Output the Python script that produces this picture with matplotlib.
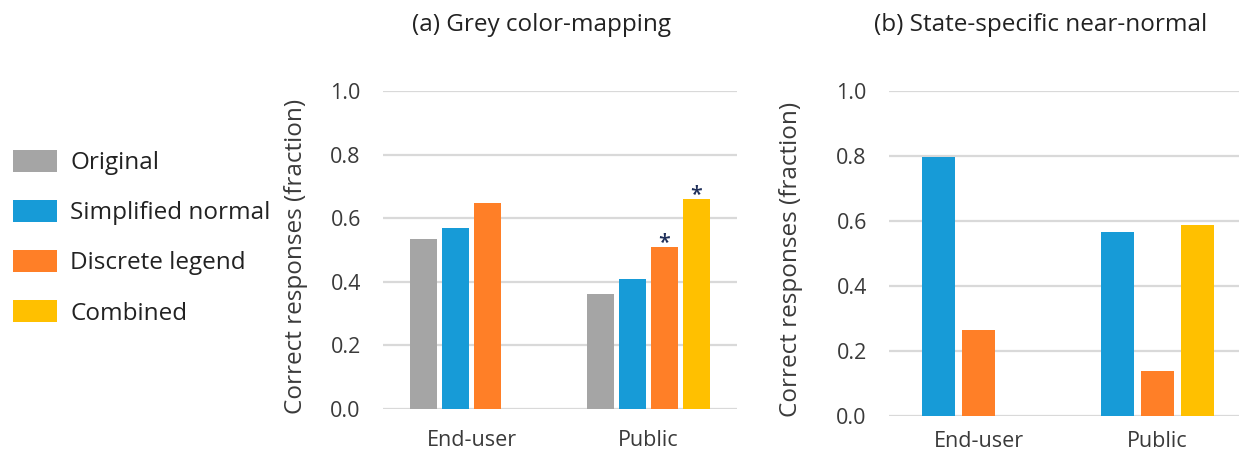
import matplotlib
matplotlib.use("Agg")
import matplotlib.pyplot as plt
from matplotlib.patches import Patch
import numpy as np

plt.rcParams['font.family'] = ['Open Sans', 'DejaVu Sans']

categories = ["End-user", "Public"]
series_names = ["Original", "Simplified normal", "Discrete legend", "Combined"]
colors = ["#A5A5A5", "#179BD7", "#FF7F27", "#FFC000"]

# (a) Grey color-mapping: NaN marks a condition that was not tested
grey_original = [0.535, 0.362]
grey_simplified = [0.569, 0.409]
grey_discrete = [0.649, 0.508]
grey_combined = [np.nan, 0.659]
grey_significant = [None, None, (1,), (1,)]

# (b) State-specific near-normal
near_simplified = [0.798, 0.566]
near_discrete = [0.264, 0.139]
near_combined = [np.nan, 0.587]

yticks = [0.0, 0.2, 0.4, 0.6, 0.8, 1.0]
ylabel = "Correct responses (fraction)"
titles = ["(a) Grey color-mapping", "(b) State-specific near-normal"]

W, H = 1239, 455
fig = plt.figure(figsize=(W / 100, H / 100), dpi=100)
FS_TICK = 15.5
FS = 17.5
TXT = "#3A3A3A"
DARK = "#222222"
GRID = "#D9D9D9"


def style_axes(ax, xpad):
    ax.set_ylim(0, 1.0)
    ax.set_yticks(yticks)
    ax.set_yticklabels([f"{t:.1f}" for t in yticks], fontsize=FS_TICK, color=TXT)
    ax.set_xticks(range(len(categories)))
    ax.set_xticklabels(categories, fontsize=FS_TICK, color=TXT)
    ax.tick_params(axis="both", length=0)
    ax.tick_params(axis="y", pad=16)
    ax.tick_params(axis="x", pad=xpad)
    for s in ax.spines.values():
        s.set_visible(False)
    ax.grid(axis="y", color=GRID, linewidth=1.6)
    ax.set_axisbelow(True)
    ax.set_ylabel(ylabel, fontsize=FS, color=TXT)


# Panel (a)
ax1 = fig.add_axes([383 / W, (H - 409) / H, 354 / W, (409 - 91) / H])
x = np.arange(len(categories))
slot = 0.181
bw = 0.153
grey_series = [grey_original, grey_simplified, grey_discrete, grey_combined]
for i, vals in enumerate(grey_series):
    pos = x + (i - 1.5) * slot
    ax1.bar(pos, vals, width=bw, color=colors[i], zorder=3)
    sig = grey_significant[i]
    if sig:
        for j in sig:
            ax1.annotate("*", (pos[j], vals[j]), xytext=(0, -4), textcoords="offset points",
                         ha="center", va="bottom", fontsize=FS_TICK, color="#1F2F5A",
                         fontweight="semibold", zorder=4)
ax1.set_xlim(-0.5, 1.5)
style_axes(ax1, 15)
ax1.yaxis.set_label_coords(-0.212, 0.48)

# Panel (b)
ax2 = fig.add_axes([889 / W, (H - 416) / H, (W - 889) / W, (416 - 91) / H])
slot2 = 0.223
bw2 = 0.187
near_series = [near_simplified, near_discrete, near_combined]
for i, vals in enumerate(near_series):
    ax2.bar(x + (i - 1) * slot2, vals, width=bw2, color=colors[i + 1], zorder=3)
ax2.set_xlim(-0.5, 1.5 - (1247 - W) / 179)
style_axes(ax2, 11)
ax2.yaxis.set_label_coords(-0.246, 0.483)

# Titles
fig.text(541 / W, 1 - 25 / H, titles[0], ha="center", va="center", fontsize=FS, color=DARK)
fig.text(1041 / W, 1 - 25 / H, titles[1], ha="center", va="center", fontsize=FS, color=DARK)

# Legend
fs_px = FS * 100 / 72
handles = [Patch(facecolor=c, edgecolor="none") for c in colors]
fig.legend(handles, series_names, loc="upper left", bbox_to_anchor=(0.0, 1 - 137 / H),
           frameon=False, fontsize=FS, labelcolor=DARK,
           handlelength=44 / fs_px, handleheight=24 / fs_px,
           labelspacing=1.03, handletextpad=13 / fs_px, borderaxespad=0.0,
           borderpad=13 / fs_px)

fig.savefig("out.png", dpi=100, facecolor="white")
